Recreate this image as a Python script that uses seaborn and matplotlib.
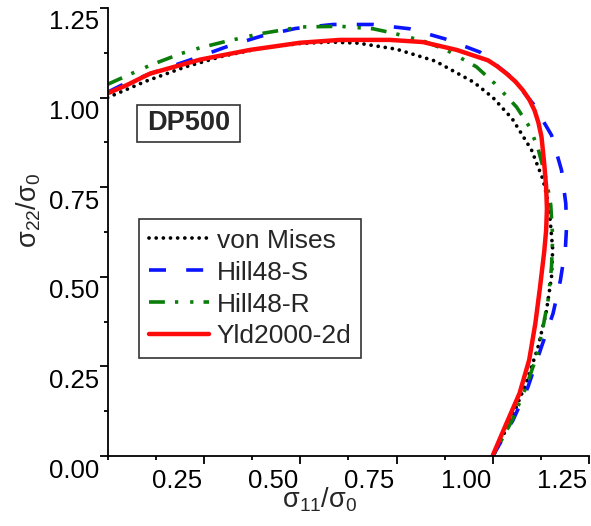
import numpy as np
import pandas as pd
import matplotlib
matplotlib.use("Agg")
import matplotlib.pyplot as plt
import seaborn as sns
from matplotlib.ticker import AutoMinorLocator
from matplotlib.transforms import ScaledTranslation
from matplotlib.patches import Rectangle

# ---- data ----
vm_x = [0.000, 0.100, 0.200, 0.300, 0.400, 0.500, 0.577, 0.650, 0.750, 0.850, 0.950, 1.000,
        1.050, 1.100, 1.130, 1.145, 1.155, 1.152, 1.145, 1.138, 1.116, 1.085, 1.046, 1.000]
vm_y = [1.000, 1.046, 1.085, 1.116, 1.138, 1.151, 1.155, 1.152, 1.135, 1.102, 1.043, 1.000,
        0.941, 0.854, 0.771, 0.700, 0.577, 0.500, 0.450, 0.400, 0.300, 0.200, 0.100, 0.000]

hs_x = [0.000, 0.050, 0.132, 0.214, 0.309, 0.400, 0.488, 0.585, 0.688, 0.784, 0.875, 0.966,
        1.048, 1.104, 1.152, 1.178, 1.189, 1.191, 1.188, 1.175, 1.156, 1.126, 1.091, 1.052, 1.000]
hs_y = [1.015, 1.042, 1.075, 1.105, 1.142, 1.172, 1.193, 1.204, 1.204, 1.192, 1.164, 1.127,
        1.057, 0.983, 0.895, 0.797, 0.704, 0.640, 0.580, 0.490, 0.398, 0.305, 0.193, 0.100, 0.000]

hr_x = [0.000, 0.058, 0.110, 0.188, 0.240, 0.300, 0.395, 0.500, 0.603, 0.689, 0.741, 0.819,
        0.879, 0.957, 1.005, 1.061, 1.095, 1.117, 1.139, 1.150, 1.155, 1.152, 1.143, 1.130,
        1.113, 1.085, 1.050, 1.000]
hr_y = [1.037, 1.065, 1.090, 1.122, 1.139, 1.155, 1.178, 1.197, 1.199, 1.192, 1.180, 1.158,
        1.133, 1.086, 1.039, 0.974, 0.918, 0.858, 0.769, 0.700, 0.611, 0.528, 0.435, 0.360,
        0.277, 0.190, 0.100, 0.000]

yl_x = [0.000, 0.050, 0.110, 0.240, 0.369, 0.499, 0.603, 0.732, 0.818, 0.906, 0.987, 1.010,
        1.035, 1.058, 1.078, 1.095, 1.108, 1.118, 1.126, 1.133, 1.138, 1.140, 1.138, 1.133,
        1.122, 1.110, 1.094, 1.069, 1.035, 1.000]
yl_y = [1.012, 1.035, 1.067, 1.106, 1.133, 1.153, 1.161, 1.161, 1.155, 1.133, 1.104, 1.088,
        1.067, 1.045, 1.020, 0.993, 0.964, 0.930, 0.890, 0.816, 0.750, 0.690, 0.630, 0.570,
        0.470, 0.370, 0.268, 0.175, 0.091, 0.003]

labels = ["von Mises", "Hill48-S", "Hill48-R", "Yld2000-2d"]
x_ticks = [0.25, 0.50, 0.75, 1.00, 1.25]
y_ticks = [0.00, 0.25, 0.50, 0.75, 1.00, 1.25]

sns.set_style("ticks")
plt.rcParams['font.family'] = ['Liberation Sans', 'DejaVu Sans']
plt.rcParams['mathtext.fontset'] = 'custom'
plt.rcParams['mathtext.rm'] = 'Liberation Sans'
plt.rcParams['mathtext.it'] = 'Liberation Sans'

W, H = 591, 526
fig = plt.figure(figsize=(W / 100, H / 100), dpi=100)
ax = fig.add_axes([107.6 / W, (H - 456) / H, 481.7 / W, 448 / H])

series = [
    (vm_x, vm_y, labels[0], "black", 2.7, (0, (0.01, 1.9)), "round"),
    (hs_x, hs_y, labels[1], "#0a14ff", 2.6, (0, (4.7, 5.6)), "butt"),
    (hr_x, hr_y, labels[2], "#0a7d0a", 2.6, (0, (4.4, 2.8, 0.9, 3.3, 0.9, 2.8)), "butt"),
    (yl_x, yl_y, labels[3], "#ff0a0a", 3.2, "-", "round"),
]
for xs, ys, lab, col, lw, ls, cap in series:
    df = pd.DataFrame({"x": xs, "y": ys})
    sns.lineplot(data=df, x="x", y="y", sort=False, estimator=None, ax=ax,
                 color=col, linewidth=lw, label=lab)
    ln = ax.lines[-1]
    ln.set_linestyle(ls)
    ln.set_dash_capstyle(cap)
    ln.set_solid_capstyle(cap)
    ln.set_solid_joinstyle("round")

ax.set_xlim(0, 1.25)
ax.set_ylim(0, 1.25)
ax.set_xticks(x_ticks)
ax.set_yticks(y_ticks)
ax.set_xticklabels([f"{v:.2f}" for v in x_ticks])
ax.set_yticklabels([f"{v:.2f}" for v in y_ticks])
ax.xaxis.set_minor_locator(AutoMinorLocator(2))
ax.yaxis.set_minor_locator(AutoMinorLocator(2))
ax.set_xlabel("")
ax.set_ylabel("")
sns.despine(ax=ax)
for s in ["left", "bottom"]:
    ax.spines[s].set_linewidth(1.3)
    ax.spines[s].set_color("black")
ax.tick_params(which="major", direction="out", length=5.5, width=1.3, color="black",
               labelsize=18.5, labelcolor="black")
ax.tick_params(which="minor", direction="out", length=3, width=1.3, color="black")
ax.tick_params(axis="y", pad=0.5)
ax.tick_params(axis="x", pad=4.0)
for lab in ax.get_xticklabels():
    lab.set_horizontalalignment("right")
    lab.set_transform(lab.get_transform() + ScaledTranslation(-2 / 100, 0, fig.dpi_scale_trans))
for lab in ax.get_yticklabels():
    lab.set_transform(lab.get_transform() + ScaledTranslation(0, -12 / 100, fig.dpi_scale_trans))

fig.text(29 / W, 1 - 210 / H, r"σ$_{22}$/σ$_0$", rotation=90, ha="center", va="center",
         fontsize=19.5)
fig.text(320 / W, 1 - 500 / H, r"σ$_{11}$/σ$_0$", ha="center", va="center", fontsize=19.5)

# DP500 box
ax.add_patch(Rectangle((0.060, 0.702), 0.215, 0.081, transform=ax.transAxes,
                       facecolor="white", edgecolor="#333333", linewidth=1.2, zorder=5))
ax.text(0.168, 0.743, "DP500", transform=ax.transAxes, ha="center", va="center",
        fontsize=19.5, fontweight="bold", zorder=6)

leg = ax.legend(loc="upper left", bbox_to_anchor=(0.066, 0.528), borderaxespad=0,
                fontsize=19, handlelength=2.3, handletextpad=0.28, labelspacing=0.3,
                borderpad=0.35, fancybox=False, framealpha=1, edgecolor="#333333")
leg.get_frame().set_linewidth(1.2)

fig.savefig("out.png", dpi=100)
